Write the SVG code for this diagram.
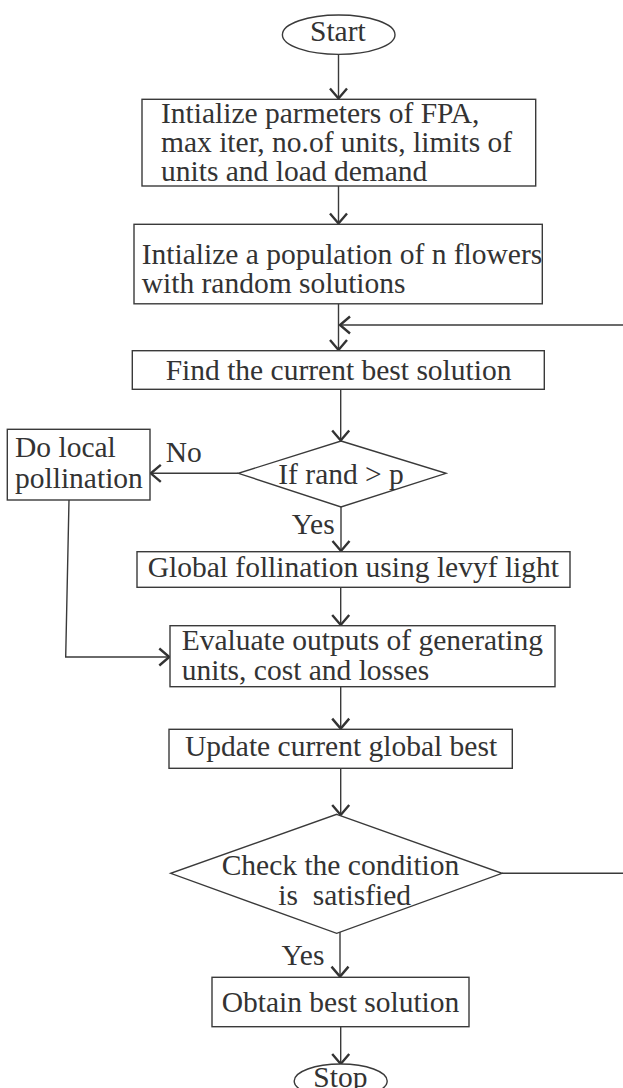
<svg xmlns="http://www.w3.org/2000/svg" width="623" height="1088" viewBox="0 0 623 1088">
<style>
.shape{fill:#fff;stroke:#3a3a3a;stroke-width:1.4}
.conn{fill:none;stroke:#3a3a3a;stroke-width:1.4}
text{font-family:"Liberation Serif","Times New Roman",serif;font-size:29.5px;fill:#333}
</style>
<defs>
<marker id="arr" markerUnits="userSpaceOnUse" markerWidth="24" markerHeight="24" refX="0" refY="0" viewBox="-12 -12 24 24" orient="auto" overflow="visible">
<path d="M-10,-8.5 L0,0 L-10,8.5" fill="none" stroke="#333" stroke-width="2.4"/>
</marker>
</defs>
<rect width="623" height="1088" fill="#fff"/>
<g id="connectors">
<line class="conn" x1="338.5" y1="54.5" x2="338.5" y2="98.5" marker-end="url(#arr)"/>
<line class="conn" x1="338.5" y1="186" x2="338.5" y2="223.5" marker-end="url(#arr)"/>
<line class="conn" x1="338.5" y1="304" x2="338.5" y2="350" marker-end="url(#arr)"/>
<line class="conn" x1="623" y1="325" x2="340" y2="325" marker-end="url(#arr)"/>
<line class="conn" x1="340.7" y1="389.3" x2="340.7" y2="440.5" marker-end="url(#arr)"/>
<line class="conn" x1="238.3" y1="473.3" x2="150.8" y2="473.3" marker-end="url(#arr)"/>
<line class="conn" x1="341" y1="507" x2="341" y2="551" marker-end="url(#arr)"/>
<line class="conn" x1="340.7" y1="587.3" x2="340.7" y2="625" marker-end="url(#arr)"/>
<polyline class="conn" points="69,500 65.7,657 169.3,657" marker-end="url(#arr)"/>
<line class="conn" x1="340.7" y1="686.7" x2="340.7" y2="728.6" marker-end="url(#arr)"/>
<line class="conn" x1="340.7" y1="768.3" x2="340.7" y2="815" marker-end="url(#arr)"/>
<line class="conn" x1="502" y1="873.3" x2="623" y2="873.3"/>
<line class="conn" x1="340" y1="932" x2="340" y2="976.6" marker-end="url(#arr)"/>
<line class="conn" x1="340.7" y1="1026.7" x2="340.7" y2="1064" marker-end="url(#arr)"/>
</g>
<g id="start">
<ellipse class="shape" cx="338.7" cy="34.7" rx="56.3" ry="19.7"/>
<text x="310" y="40.5">Start</text>
</g>
<g id="init-params">
<rect class="shape" x="142" y="99.3" width="393.7" height="86.7"/>
<text x="161" y="123">Intialize parmeters of FPA,</text>
<text x="161" y="152">max iter, no.of units, limits of</text>
<text x="161" y="181">units and load demand</text>
</g>
<g id="init-population">
<rect class="shape" x="134" y="224.3" width="408.3" height="79.5"/>
<text x="141.7" y="264.3">Intialize a population of n flowers</text>
<text x="141.7" y="293.3">with random solutions</text>
</g>
<g id="find-best">
<rect class="shape" x="132.3" y="350.7" width="412" height="38.6"/>
<text x="165.7" y="380">Find the current best solution</text>
</g>
<g id="decision-rand">
<polygon class="shape" points="341,441 446,473.3 341,507 238.3,473.3"/>
<text x="278.3" y="484">If rand &gt; p</text>
</g>
<g id="local-pollination">
<rect class="shape" x="7.3" y="429.3" width="142.7" height="70.7"/>
<text x="15" y="457">Do local</text>
<text x="15" y="488">pollination</text>
</g>
<g id="label-no"><text x="165.7" y="462">No</text></g>
<g id="label-yes1"><text x="291.7" y="534">Yes</text></g>
<g id="global-pollination">
<rect class="shape" x="137" y="551.7" width="433" height="35.6"/>
<text x="147.7" y="576.7">Global follination using levyf light</text>
</g>
<g id="evaluate">
<rect class="shape" x="170" y="625.7" width="385" height="61"/>
<text x="181.7" y="650">Evaluate outputs of generating</text>
<text x="181.7" y="680">units, cost and losses</text>
</g>
<g id="update-best">
<rect class="shape" x="169" y="729.3" width="343.3" height="39"/>
<text x="185" y="756">Update current global best</text>
</g>
<g id="decision-check">
<polygon class="shape" points="336.7,814.3 502,873.3 336.7,933.3 170.7,873.3"/>
<text x="221.7" y="875">Check the condition</text>
<text><tspan x="278.3" y="905">is</tspan><tspan x="312.7" y="905">satisfied</tspan></text>
</g>
<g id="label-yes2"><text x="281.5" y="965">Yes</text></g>
<g id="obtain-best">
<rect class="shape" x="212" y="977.3" width="257" height="49.4"/>
<text x="221.7" y="1011.7">Obtain best solution</text>
</g>
<g id="stop">
<ellipse class="shape" cx="340.7" cy="1081" rx="46.5" ry="17"/>
<text x="313.3" y="1087">Stop</text>
</g>
</svg>
